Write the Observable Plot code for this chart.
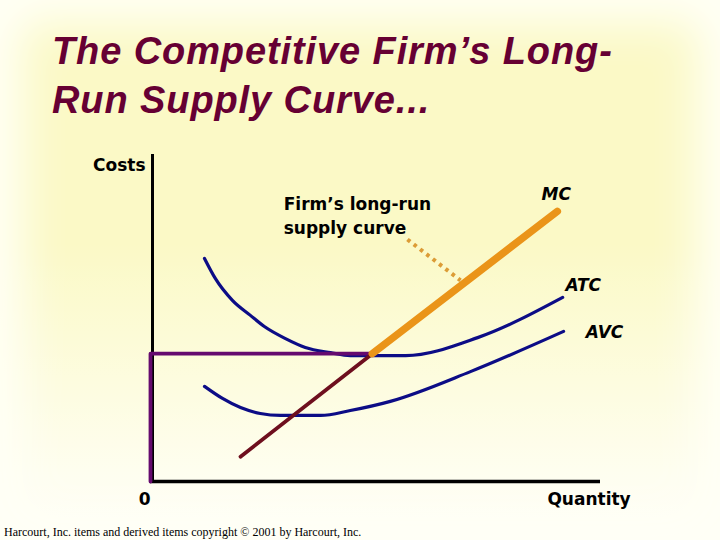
<!DOCTYPE html>
<html>
<head>
<meta charset="utf-8">
<script src="https://cdn.jsdelivr.net/npm/d3@7"></script>
<script src="https://cdn.jsdelivr.net/npm/@observablehq/plot@0.6"></script>
<style>
  html, body { margin: 0; padding: 0; }
  body {
    width: 720px; height: 540px; position: relative; overflow: hidden;
    background: linear-gradient(to bottom, rgba(255,255,247,0) 45%, rgba(255,255,247,0.85) 88%, rgba(255,255,247,1) 100%), #fbf9c6;
    box-shadow: inset 0 0 45px 22px #fffff6;
  }
  #title {
    position: absolute; left: 52px; top: 27px;
    font-family: "Liberation Sans", Arial, sans-serif; font-weight: bold; font-style: italic;
    font-size: 38px; line-height: 49px; letter-spacing: 0.9px; color: #660033;
  }
  #chart { position: absolute; left: 0; top: 145px; }
  #footer {
    position: absolute; left: 4px; top: 525px;
    font-family: "Liberation Serif", "Times New Roman", serif; font-size: 12px; color: #000;
  }
</style>
</head>
<body>
<div id="title">The Competitive Firm’s Long-<br>Run Supply Curve...</div>
<div id="chart"></div>
<div id="footer">Harcourt, Inc. items and derived items copyright © 2001 by Harcourt, Inc.</div>
<script>
// ATC curve
const atcX = [1.2, 1.44, 1.82, 2.22, 2.53, 3.0, 3.44, 4.0, 4.44, 4.93, 5.67, 7.27, 9.16];
const atcY = [6.82, 6.21, 5.54, 5.08, 4.74, 4.37, 4.10, 3.94, 3.85, 3.85, 3.85, 4.40, 5.63];
// AVC curve
const avcX = [1.2, 1.6, 2.0, 2.44, 2.89, 3.78, 4.44, 5.33, 7.11, 9.18];
const avcY = [2.91, 2.54, 2.26, 2.08, 2.02, 2.02, 2.17, 2.45, 3.36, 4.59];
// MC line: start, minimum-ATC intersection, end
const mcX = [2.0, 4.93, 9.04];
const mcY = [0.76, 3.91, 8.26];
// Dotted pointer from label to supply curve
const leaderX = [5.71, 6.89];
const leaderY = [7.40, 6.15];
// Labels
const costsLabel = {t: "Costs", x: -0.11, y: 9.72};
const originLabel = {t: "0", x: -0.13, y: -0.49};
const startLabelText = ["Firm’s long-run\nsupply curve", "Quantity"];
const startLabelX = [2.96, 8.82];
const startLabelY = [8.17, -0.49];
const curveText = ["MC", "ATC", "AVC"];
const curveLabelX = [8.69, 9.22, 9.67];
const curveLabelY = [8.84, 6.06, 4.62];

const atc = atcX.map((x, i) => ({x, y: atcY[i]}));
const avc = avcX.map((x, i) => ({x, y: avcY[i]}));
const mcLow = [0, 1].map(i => ({x: mcX[i], y: mcY[i]}));
const mcHigh = [1, 2].map(i => ({x: mcX[i], y: mcY[i]}));
const price = [{x: 0, y: 0}, {x: 0, y: mcY[1]}, {x: mcX[1], y: mcY[1]}];
const leader = leaderX.map((x, i) => ({x, y: leaderY[i]}));
const startLabels = startLabelText.map((t, i) => ({t, x: startLabelX[i], y: startLabelY[i]}));
const curveLabels = curveText.map((t, i) => ({t, x: curveLabelX[i], y: curveLabelY[i]}));

const font = "DejaVu Sans, Verdana, sans-serif";
const navy = "#0c0c86";
const txt = {x: "x", y: "y", text: "t", fontSize: 17, fontWeight: "bold", fontFamily: font, fill: "#000", lineHeight: 1.42};

const chart = Plot.plot({
  width: 720,
  height: 370,
  marginLeft: 150,
  marginRight: 120,
  marginTop: 9,
  marginBottom: 34,
  x: {domain: [0, 10], axis: null},
  y: {domain: [0, 10], axis: null},
  style: {background: "transparent", overflow: "visible"},
  marks: [
    Plot.ruleX([0], {y1: 0, y2: 10, stroke: "#000", strokeWidth: 3, dx: 2}),
    Plot.ruleY([0], {x1: 0, x2: 10, stroke: "#000", strokeWidth: 3.5}),
    Plot.line(atc, {x: "x", y: "y", stroke: navy, strokeWidth: 3.2, curve: "monotone-x"}),
    Plot.line(avc, {x: "x", y: "y", stroke: navy, strokeWidth: 3.2, curve: "monotone-x"}),
    Plot.line(price, {x: "x", y: "y", stroke: "#650a6e", strokeWidth: 3.8}),
    Plot.line(mcLow, {x: "x", y: "y", stroke: "#6e0f1e", strokeWidth: 3.8}),
    Plot.line(mcHigh, {x: "x", y: "y", stroke: "#ea9419", strokeWidth: 7.5}),
    Plot.line(leader, {x: "x", y: "y", stroke: "#dc9c36", strokeWidth: 4, strokeDasharray: "3.5,4.5", strokeLinecap: "butt"}),
    Plot.text([costsLabel], {...txt, textAnchor: "end"}),
    Plot.text([originLabel], {...txt, textAnchor: "middle"}),
    Plot.text(startLabels, {...txt, textAnchor: "start"}),
    Plot.text(curveLabels, {...txt, textAnchor: "start", fontStyle: "italic"})
  ]
});
document.getElementById("chart").appendChild(chart);
</script>
</body>
</html>
